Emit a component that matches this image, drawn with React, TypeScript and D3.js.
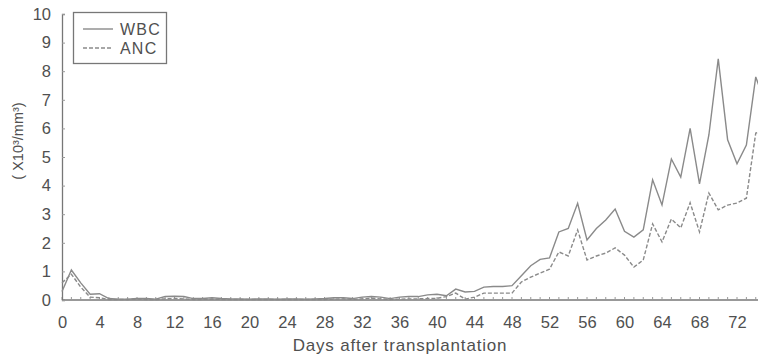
import React, { useEffect, useRef } from "react";
import * as d3 from "d3";

// days after transplantation (0..75)
const days = d3.range(0, 76);

// white blood cell count (x10^3/mm^3)
const wbc = [
  0.3, 1.05, 0.6, 0.2, 0.22, 0.05, 0.03, 0.03, 0.05, 0.05,
  0.03, 0.12, 0.13, 0.12, 0.05, 0.05, 0.08, 0.05, 0.04, 0.04,
  0.03, 0.04, 0.04, 0.03, 0.04, 0.04, 0.03, 0.04, 0.05, 0.08,
  0.08, 0.05, 0.1, 0.12, 0.1, 0.05, 0.1, 0.12, 0.12, 0.18,
  0.2, 0.15, 0.38, 0.28, 0.3, 0.45, 0.47, 0.47, 0.5, 0.85,
  1.2, 1.42, 1.47, 2.38, 2.5, 3.38, 2.1, 2.5, 2.8, 3.18,
  2.4, 2.2, 2.45, 4.2, 3.32, 4.93, 4.3, 6.0, 4.06, 5.77,
  8.43, 5.6, 4.76, 5.42, 7.8, 6.9,
];

// absolute neutrophil count (x10^3/mm^3)
const anc = [
  0.6, 0.9, 0.45, 0.1, 0.08, 0.02, 0.02, 0.02, 0.03, 0.02,
  0.02, 0.04, 0.05, 0.04, 0.02, 0.02, 0.03, 0.02, 0.02, 0.02,
  0.02, 0.02, 0.02, 0.02, 0.02, 0.02, 0.02, 0.02, 0.02, 0.03,
  0.04, 0.02, 0.04, 0.06, 0.04, 0.02, 0.03, 0.04, 0.04, 0.05,
  0.06, 0.12, 0.24, 0.03, 0.1, 0.24, 0.24, 0.24, 0.24, 0.63,
  0.8, 0.94, 1.08, 1.68, 1.54, 2.45, 1.4, 1.54, 1.64, 1.82,
  1.57, 1.15, 1.4, 2.66, 2.03, 2.83, 2.52, 3.4, 2.38, 3.74,
  3.15, 3.32, 3.39, 3.56, 5.84, 5.9,
];

const xTicks = d3.range(0, 73, 4);
const yTicks = d3.range(0, 11, 1);
const seriesNames = ["WBC", "ANC"];

const W = 758;
const H = 357;
const FONT = "'Liberation Sans', Arial, sans-serif";
const TEXT = "#505050";
const LINE = "#8a8a8a";

export default function App() {
  const ref = useRef<SVGSVGElement>(null);

  useEffect(() => {
    const svg = d3.select(ref.current);
    svg.selectAll("*").remove();

    const x = d3.scaleLinear().domain([0, 72]).range([62, 737]);
    const y = d3.scaleLinear().domain([0, 10]).range([300, 14]);

    svg.append("defs").append("clipPath").attr("id", "plot-clip")
      .append("rect").attr("x", 55).attr("y", 0).attr("width", W - 55).attr("height", 305);

    // x axis: labels every 4 days, small ticks every day
    const xAxis = svg.append("g").attr("transform", `translate(0,${y(0)})`)
      .call(d3.axisBottom(x).tickValues(xTicks).tickSize(0).tickPadding(16));
    xAxis.select(".domain").remove();
    svg.append("line")
      .attr("x1", x(0)).attr("x2", W).attr("y1", y(0)).attr("y2", y(0))
      .attr("stroke", "#777").attr("stroke-width", 1.3);
    svg.append("g").selectAll("line")
      .data(d3.range(0, 76))
      .join("line")
      .attr("x1", d => x(d)).attr("x2", d => x(d))
      .attr("y1", y(0)).attr("y2", y(0) - 3)
      .attr("stroke", "#999").attr("stroke-width", 1);

    // y axis
    const yAxis = svg.append("g").attr("transform", `translate(${x(0)},0)`)
      .call(d3.axisLeft(y).tickValues(yTicks).tickSize(-3).tickPadding(11));
    yAxis.select(".domain").attr("stroke", "#777").attr("stroke-width", 1.3);
    yAxis.selectAll(".tick line").attr("stroke", "#999");

    svg.selectAll(".tick text")
      .attr("fill", TEXT).attr("font-size", 16.5).attr("font-family", FONT);
    xAxis.selectAll(".tick text").attr("dy", "0.71em");

    const plot = svg.append("g").attr("clip-path", "url(#plot-clip)");
    const line = (vals: number[]) =>
      d3.line<number>().x((_, i) => x(days[i])).y(d => y(d))(vals);

    plot.append("path").attr("d", line(anc))
      .attr("fill", "none").attr("stroke", LINE).attr("stroke-width", 1.4)
      .attr("stroke-dasharray", "4,2");
    plot.append("path").attr("d", line(wbc))
      .attr("fill", "none").attr("stroke", LINE).attr("stroke-width", 1.4);

    // axis titles
    svg.append("text")
      .attr("x", 400).attr("y", 351).attr("text-anchor", "middle")
      .attr("font-size", 17).attr("letter-spacing", 0.8)
      .attr("font-family", FONT).attr("fill", TEXT)
      .text("Days after transplantation");
    svg.append("text")
      .attr("transform", "translate(23,141) rotate(-90)")
      .attr("text-anchor", "middle")
      .attr("font-size", 14.5).attr("font-family", FONT).attr("fill", TEXT)
      .text("( X10³/mm³)");

    // legend
    const lg = svg.append("g");
    lg.append("rect").attr("x", 73.5).attr("y", 12.5).attr("width", 93).attr("height", 51)
      .attr("fill", "white").attr("stroke", "#777").attr("stroke-width", 1.3);
    seriesNames.forEach((name, i) => {
      const ly = 29 + i * 19;
      lg.append("line").attr("x1", 83).attr("x2", 113).attr("y1", ly).attr("y2", ly)
        .attr("stroke", LINE).attr("stroke-width", 1.4)
        .attr("stroke-dasharray", i === 1 ? "4,2" : null);
      lg.append("text").attr("x", 120).attr("y", ly + 6)
        .attr("font-size", 16).attr("letter-spacing", 1.2)
        .attr("font-family", FONT).attr("fill", TEXT)
        .text(name);
    });
  }, []);

  return (
    <svg ref={ref} width={W} height={H}
      style={{ position: "absolute", left: 0, top: 0, background: "white" }} />
  );
}
